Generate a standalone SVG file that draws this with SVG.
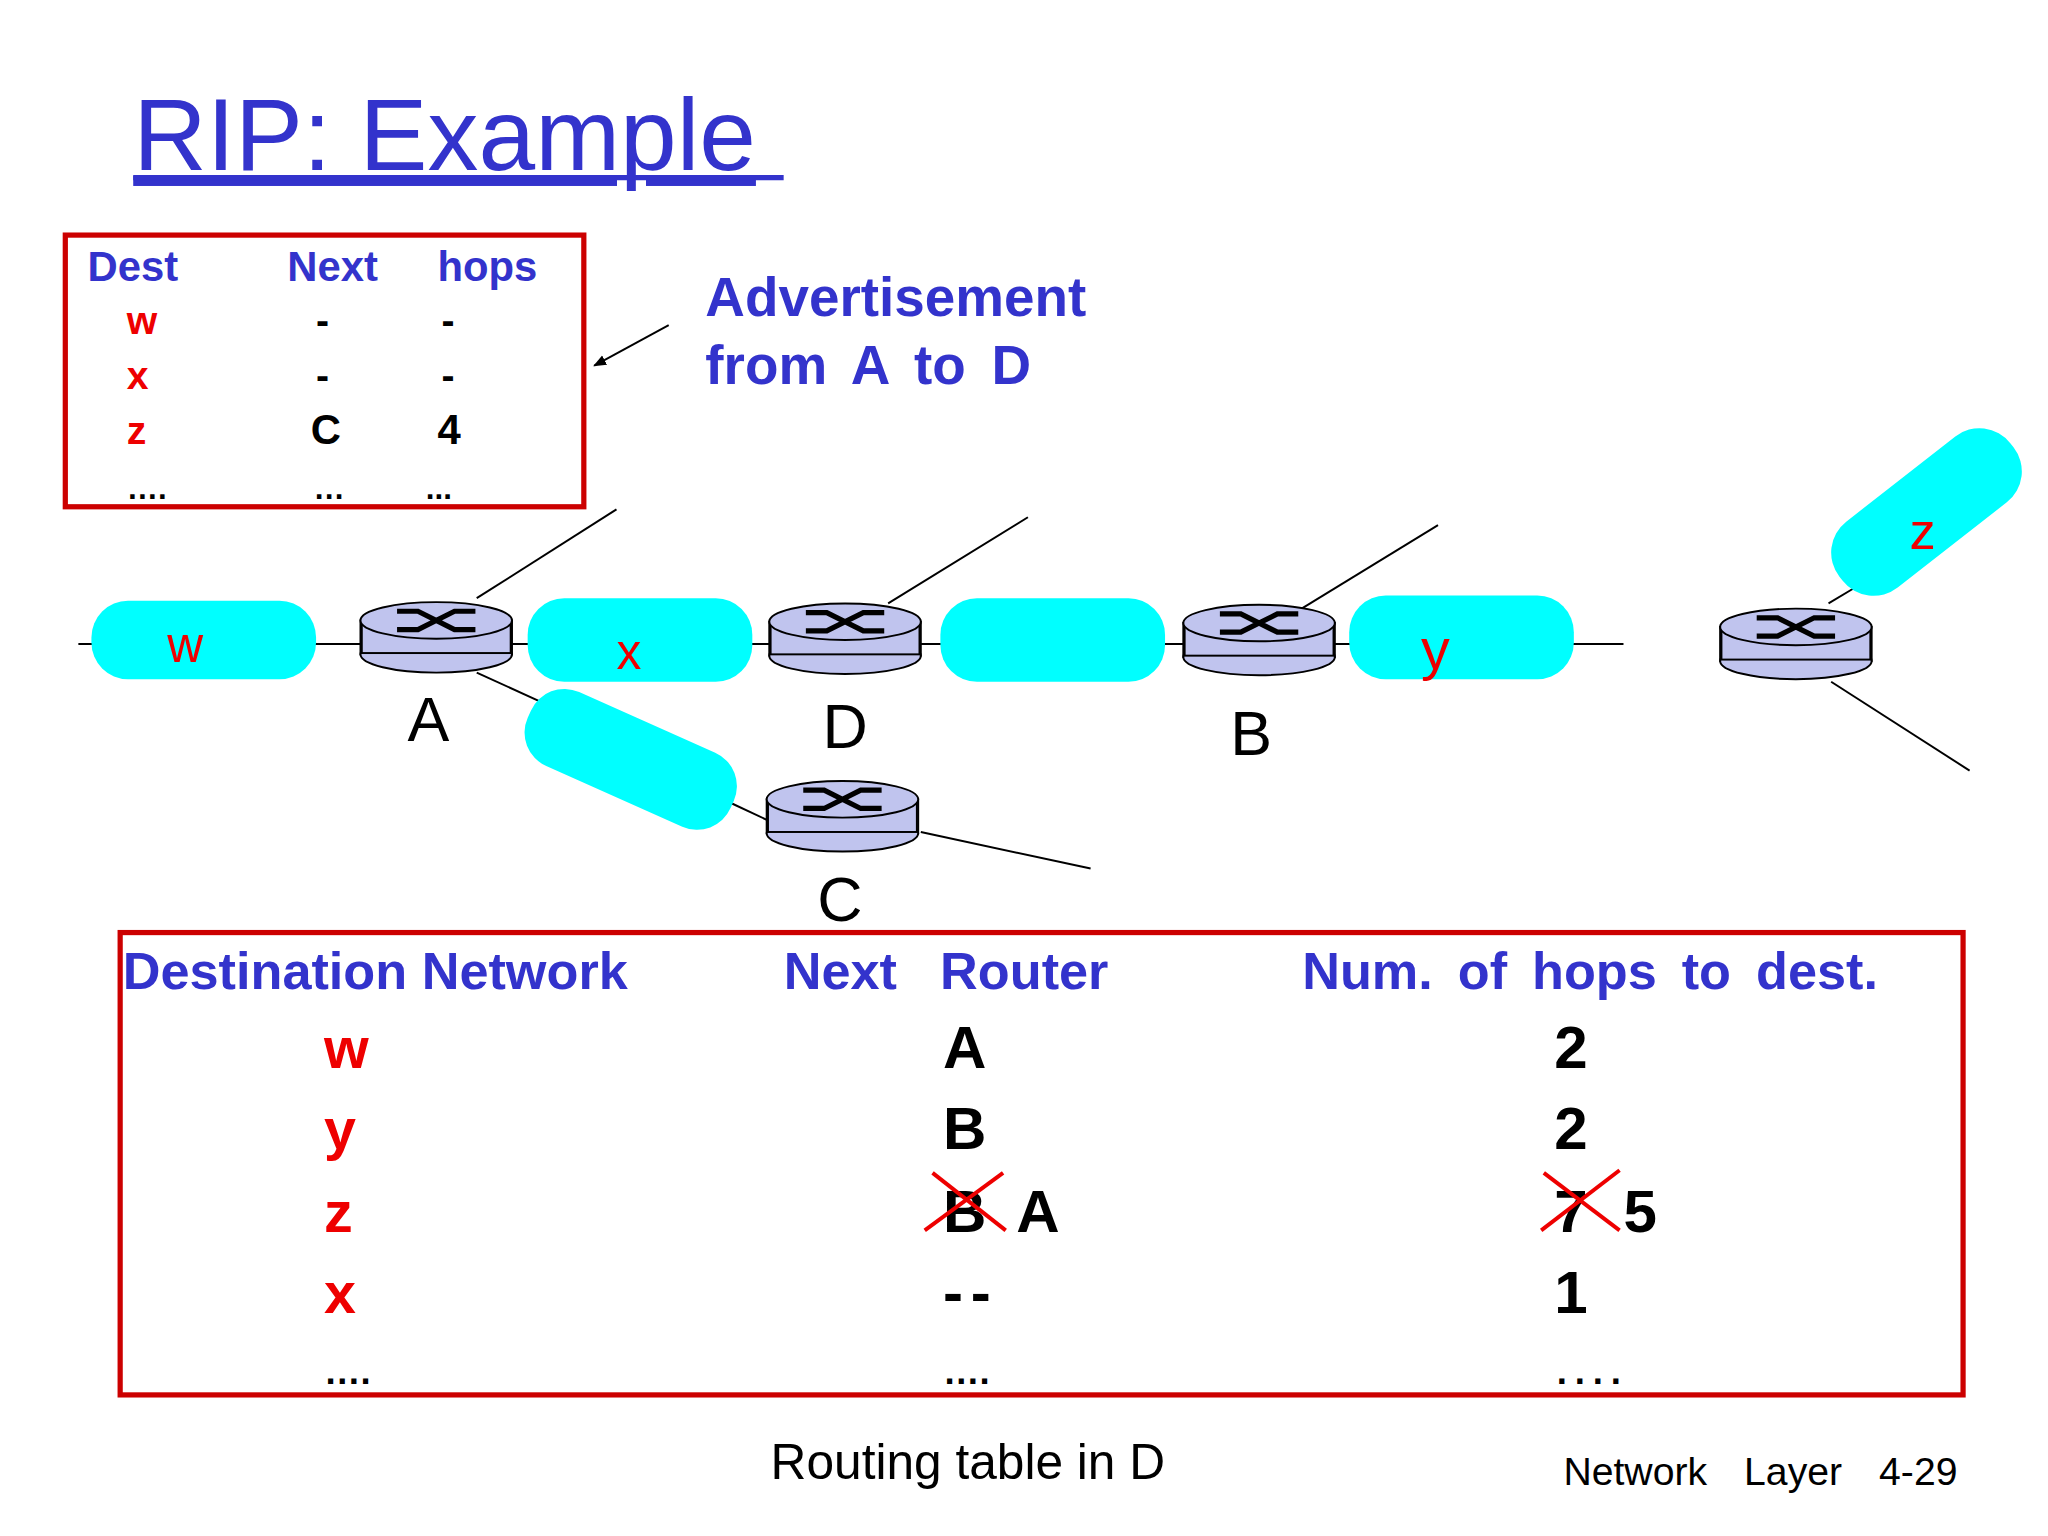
<svg xmlns="http://www.w3.org/2000/svg" width="2048" height="1536" viewBox="0 0 2048 1536">
<style>
.b{font-family:"Liberation Sans",Arial,sans-serif;font-weight:bold;fill:#3333cc}
.r{font-family:"Liberation Sans",Arial,sans-serif;font-weight:bold;fill:#ee0000}
.k{font-family:"Liberation Sans",Arial,sans-serif;font-weight:bold;fill:#000}
.n{font-family:"Liberation Sans",Arial,sans-serif;fill:#000}
.cl{fill:#00ffff}
.ln{stroke:#000;stroke-width:1.5;fill:none}
.box{fill:none;stroke:#cc0000;stroke-width:4}
.rt ellipse,.rt rect{fill:#c0c4ee;stroke:#000;stroke-width:1.5}
.rt path{stroke:#000;stroke-width:4;fill:none}
.x{stroke:#ee0000;stroke-width:3}
</style>
<defs>
<marker id="ah" markerWidth="10" markerHeight="10" refX="9" refY="5" orient="auto" markerUnits="userSpaceOnUse"><path d="M0,1 L10,5 L0,9 z" fill="#000"/></marker>
<g id="router" class="rt">
<rect x="-58" y="0" width="116" height="26"/>
<ellipse cx="0" cy="26" rx="58" ry="14"/>
<rect x="-57" y="1" width="114" height="24" stroke="none"/>
<ellipse cx="0" cy="0" rx="58" ry="14"/>
<path d="M-30,-7 L-14,-7 L14,7 L30,7 M-30,7 L-14,7 L14,-7 L30,-7"/>
</g>
</defs>
<g transform="scale(1.3061)">
<text x="102" y="130" class="b" style="font-weight:normal" font-size="78" text-decoration="underline">RIP: Example</text>
<line x1="102" y1="136" x2="600" y2="136" stroke="#3333cc" stroke-width="4"/>

<g id="adtable">
<rect x="50" y="180" width="397" height="208" class="box"/>
<text x="67" y="215" class="b" font-size="32">Dest</text>
<text x="220" y="215" class="b" font-size="32">Next</text>
<text x="335" y="215" class="b" font-size="32">hops</text>
<text x="97" y="256" class="r" font-size="30">w</text>
<text x="242" y="256" class="k" font-size="30">-</text>
<text x="338" y="256" class="k" font-size="30">-</text>
<text x="97" y="298" class="r" font-size="30">x</text>
<text x="242" y="298" class="k" font-size="30">-</text>
<text x="338" y="298" class="k" font-size="30">-</text>
<text x="97" y="340" class="r" font-size="30">z</text>
<text x="238" y="340" class="k" font-size="32">C</text>
<text x="335" y="340" class="k" font-size="32">4</text>
<text x="97" y="382" class="k" font-size="24">….</text>
<text x="240" y="382" class="k" font-size="24">…</text>
<text x="326" y="382" class="k" font-size="24">...</text>
</g>
<g id="adlabel">
<text x="540" y="242" class="b" font-size="42">Advertisement</text>
<text x="540" y="294" class="b" font-size="42" word-spacing="8">from A to D</text>
</g>

<g id="connectors">
<line x1="512" y1="249" x2="455" y2="280" class="ln" marker-end="url(#ah)"/>
<line x1="60" y1="493" x2="1243" y2="493" class="ln"/>
<line x1="365" y1="458" x2="472" y2="390" class="ln"/>
<line x1="365" y1="515" x2="420" y2="540" class="ln"/>
<line x1="680" y1="462" x2="787" y2="396" class="ln"/>
<line x1="995" y1="467" x2="1101" y2="402" class="ln"/>
<line x1="560" y1="615" x2="592" y2="630" class="ln"/>
<line x1="705" y1="637" x2="835" y2="665" class="ln"/>
<line x1="1400" y1="462" x2="1420" y2="450" class="ln"/>
<line x1="1402" y1="522" x2="1508" y2="590" class="ln"/>
</g>

<g id="clouds">
<rect x="70" y="460" width="172" height="60" rx="28" class="cl"/>
<rect x="404" y="458" width="172" height="64" rx="28" class="cl"/>
<rect x="720" y="458" width="172" height="64" rx="28" class="cl"/>
<rect x="1033" y="456" width="172" height="64" rx="28" class="cl"/>
<rect x="398" y="550" width="170" height="62" rx="28" class="cl" transform="rotate(24 482 581)"/>
<rect x="1392" y="360" width="166" height="64" rx="30" class="cl" transform="rotate(-38 1475 392)"/>
<text x="128" y="507" class="r" font-size="38" style="font-weight:normal">w</text>
<text x="472" y="512" class="r" font-size="38" style="font-weight:normal">x</text>
<text x="1088" y="512" class="r" font-size="44" style="font-weight:normal">y</text>
<text x="1462" y="420" class="r" font-size="40" style="font-weight:normal">z</text>
</g>

<g id="rA"><use href="#router" x="334" y="475"/><text x="328" y="567" class="n" font-size="48" text-anchor="middle">A</text></g>
<g id="rD"><use href="#router" x="647" y="476"/><text x="647" y="573" class="n" font-size="48" text-anchor="middle">D</text></g>
<g id="rB"><use href="#router" x="964" y="477"/><text x="958" y="578" class="n" font-size="48" text-anchor="middle">B</text></g>
<g id="rC"><use href="#router" x="645" y="612"/><text x="643" y="705" class="n" font-size="48" text-anchor="middle">C</text></g>
<g id="rZ"><use href="#router" x="1375" y="480"/></g>

<g id="dtable">
<rect x="92" y="714" width="1411" height="354" class="box"/>
<text x="94" y="757" class="b" font-size="40">Destination Network</text>
<text x="600" y="757" class="b" font-size="40" word-spacing="22">Next Router</text>
<text x="997" y="757" class="b" font-size="40" word-spacing="8">Num. of hops to dest.</text>
<text x="248" y="818" class="r" font-size="44">w</text>
<text x="248" y="880" class="r" font-size="44">y</text>
<text x="248" y="943" class="r" font-size="44">z</text>
<text x="248" y="1005" class="r" font-size="44">x</text>
<text x="248" y="1060" class="k" font-size="28">….</text>
<text x="722" y="818" class="k" font-size="46">A</text>
<text x="722" y="880" class="k" font-size="46">B</text>
<text x="722" y="943" class="k" font-size="46">B</text>
<line x1="708" y1="942" x2="768" y2="898" class="x"/><line x1="714" y1="898" x2="770" y2="942" class="x"/>
<text x="778" y="943" class="k" font-size="46">A</text>
<text x="722" y="1005" class="k" font-size="46" letter-spacing="6">--</text>
<text x="722" y="1060" class="k" font-size="28">….</text>
<text x="1190" y="818" class="k" font-size="46">2</text>
<text x="1190" y="880" class="k" font-size="46">2</text>
<text x="1190" y="943" class="k" font-size="46">7</text>
<line x1="1180" y1="942" x2="1240" y2="896" class="x"/><line x1="1182" y1="898" x2="1240" y2="942" class="x"/>
<text x="1243" y="943" class="k" font-size="46">5</text>
<text x="1190" y="1005" class="k" font-size="46">1</text>
<text x="1192" y="1060" class="k" font-size="28" letter-spacing="6">....</text>
</g>
<text x="590" y="1132" class="n" font-size="38">Routing table in D</text>
<text x="1197" y="1137" class="n" font-size="30" word-spacing="20">Network Layer 4-29</text>
</g>
</svg>
